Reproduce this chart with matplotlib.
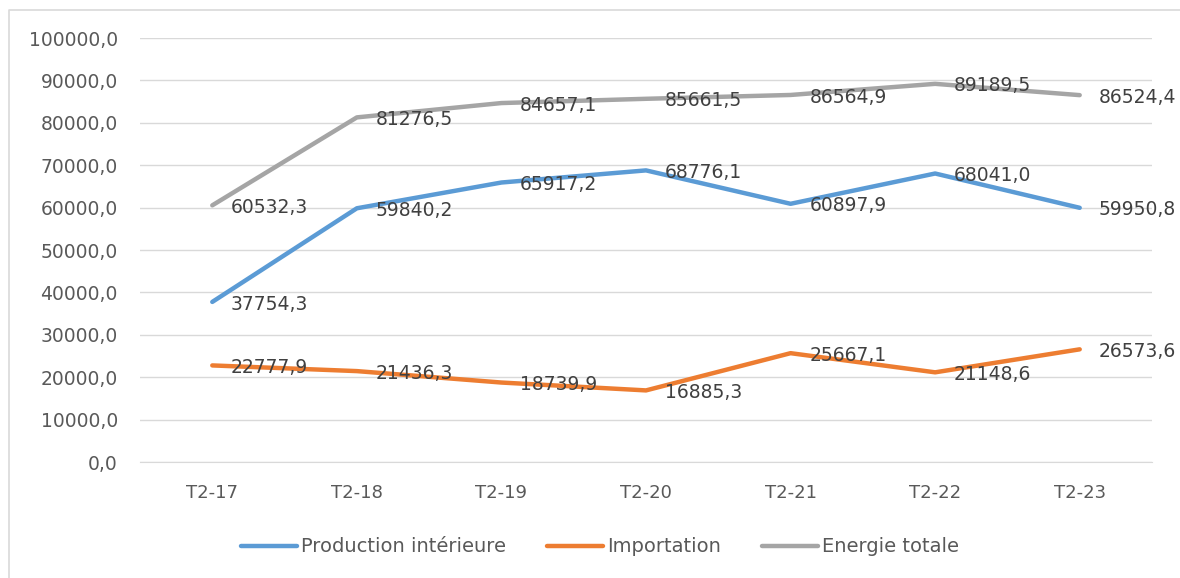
import matplotlib
matplotlib.use("Agg")
import matplotlib.pyplot as plt
from matplotlib.lines import Line2D

categories = ["T2-17", "T2-18", "T2-19", "T2-20", "T2-21", "T2-22", "T2-23"]
production = [37754.3, 59840.2, 65917.2, 68776.1, 60897.9, 68041.0, 59950.8]
importation = [22777.9, 21436.3, 18739.9, 16885.3, 25667.1, 21148.6, 26573.6]
energie = [60532.3, 81276.5, 84657.1, 85661.5, 86564.9, 89189.5, 86524.4]
series_names = ["Production intérieure", "Importation", "Energie totale"]
colors = ["#5B9BD5", "#ED7D31", "#A5A5A5"]

def fmt(v):
    return f"{v:.1f}".replace(".", ",")

fig = plt.figure(figsize=(11.8, 5.78), dpi=100)
ax = fig.add_axes([140/1180, 116/578, 1012/1180, 424/578])

x = list(range(len(categories)))
for vals, name, c in zip([production, importation, energie], series_names, colors):
    ax.plot(x, vals, color=c, lw=3.2, label=name, solid_capstyle="round", zorder=3)
    for xi, v in zip(x, vals):
        ax.annotate(fmt(v), (xi, v), xytext=(13.5, -1.5), textcoords="offset points",
                    ha="left", va="center", fontsize=13.5, color="#404040", zorder=4,
                    annotation_clip=False)

ax.set_xlim(-0.5, 6.5)
ax.set_ylim(0, 100000)
ax.set_yticks(range(0, 100001, 10000))
ax.set_yticklabels([fmt(t) for t in range(0, 100001, 10000)], fontsize=13.5, color="#595959")
ax.set_xticks(x)
ax.set_xticklabels(categories, fontsize=13, color="#595959")
ax.tick_params(axis="y", length=0, pad=16)
ax.tick_params(axis="x", length=0, pad=16)
ax.grid(axis="y", color="#D9D9D9", lw=1)
ax.set_axisbelow(True)
for s in ["top", "right", "left"]:
    ax.spines[s].set_visible(False)
ax.spines["bottom"].set_color("#D9D9D9")

leg = fig.legend(loc="center", bbox_to_anchor=(600/1180, 31/578), ncol=3, frameon=False,
                 fontsize=14, handlelength=2.9, columnspacing=2.1, handletextpad=0.2)
for line in leg.get_lines():
    line.set_linewidth(3.2)
    line.set_solid_capstyle("round")
for t in leg.get_texts():
    t.set_color("#595959")

bx = 8.5 / 1180
by = 1 - 9.5 / 578
fig.lines.append(Line2D([bx, bx, 1.0], [0.0, by, by], transform=fig.transFigure,
                        color="#D9D9D9", lw=1.2))
fig.savefig("out.png", dpi=100)
